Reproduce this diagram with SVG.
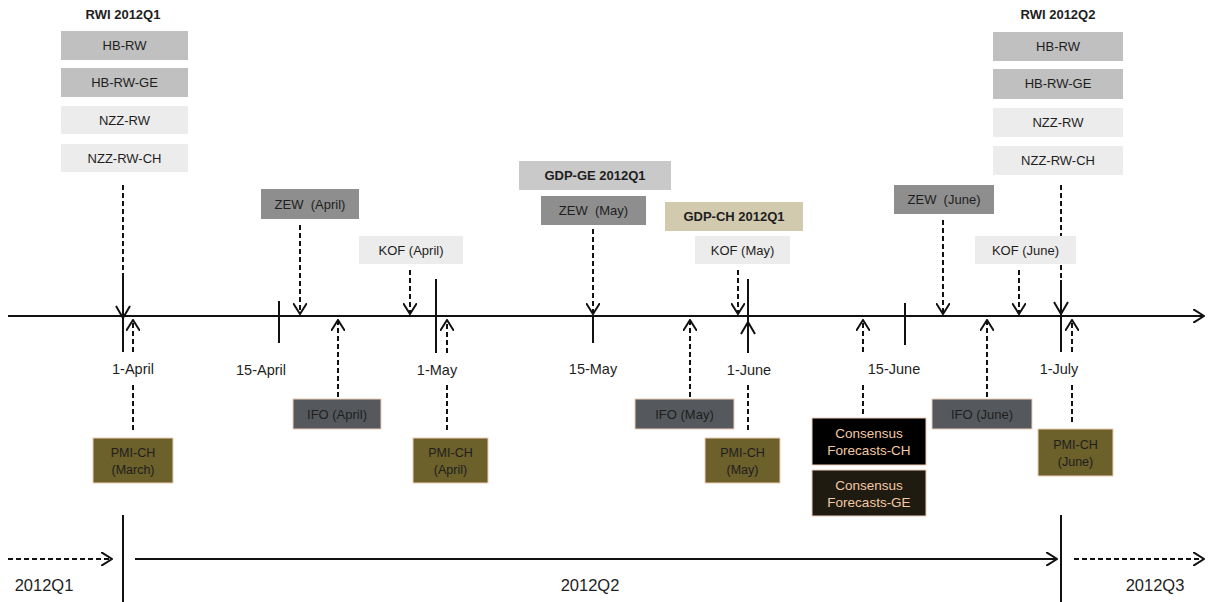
<svg xmlns="http://www.w3.org/2000/svg" width="1210" height="602" viewBox="0 0 1210 602">
<defs>
<style>
text{font-family:"Liberation Sans",Arial,sans-serif;fill:#1e1e1e;text-anchor:middle;white-space:pre}
.lbl{font-size:13px}
.pl{font-size:12.5px}
.bold{font-size:13px;font-weight:bold}
.date{font-size:14.5px}
.q{font-size:16.5px}
.pale{fill:#ececec}
.mid{fill:#c0c0c0}
.zew{fill:#8e8e8e}
.ifo{fill:#55595d;stroke:#f0cdb8;stroke-width:1}
.pmi{fill:#6c602b;stroke:#f0cdb8;stroke-width:1}
.cons{stroke:#f0cdb8;stroke-width:1}
.ct{fill:#f2c9a6;font-size:13.5px}
.s{stroke:#111;stroke-width:2;fill:none}
.d{stroke:#111;stroke-width:2;fill:none;stroke-dasharray:5,3}
.ch{stroke:#111;stroke-width:2;fill:none}
</style>
<marker id="ah" viewBox="0 0 12 14" refX="11" refY="7" markerWidth="12" markerHeight="14" markerUnits="userSpaceOnUse" orient="auto">
<path d="M0,0 L11,7 L0,14" fill="none" stroke="#111" stroke-width="2"/>
</marker>
</defs>
<rect width="1210" height="602" fill="#fff"/>

<g id="connectors">
<!-- main timeline -->
<line x1="8" y1="316" x2="1204" y2="316" class="s" marker-end="url(#ah)"/>
<!-- ticks -->
<line x1="123" y1="185" x2="123" y2="273" class="d"/>
<line x1="123" y1="273" x2="123" y2="352" class="s"/>
<line x1="279" y1="301" x2="279" y2="343" class="s"/>
<line x1="436" y1="279" x2="436" y2="353" class="s"/>
<line x1="593" y1="316" x2="593" y2="343" class="s"/>
<line x1="748" y1="279" x2="748" y2="353" class="s"/>
<line x1="905" y1="303" x2="905" y2="345" class="s"/>
<line x1="1061" y1="185" x2="1061" y2="280" class="d"/>
<line x1="1061" y1="280" x2="1061" y2="352" class="s"/>
<!-- solid chevrons -->
<path d="M116,306 L123,318 L130,306" class="ch"/>
<path d="M1054,302 L1061,314 L1068,302" class="ch"/>
<path d="M741,334 L748,322 L755,334" class="ch"/>
<!-- down dashed arrows -->
<line x1="300" y1="225" x2="300" y2="314" class="d" marker-end="url(#ah)"/>
<line x1="410" y1="270" x2="410" y2="314" class="d" marker-end="url(#ah)"/>
<line x1="593" y1="229" x2="593" y2="314" class="d" marker-end="url(#ah)"/>
<line x1="738" y1="270" x2="738" y2="314" class="d" marker-end="url(#ah)"/>
<line x1="943" y1="220" x2="943" y2="314" class="d" marker-end="url(#ah)"/>
<line x1="1019" y1="270" x2="1019" y2="314" class="d" marker-end="url(#ah)"/>
<!-- up dashed arrows -->
<line x1="133" y1="352" x2="133" y2="320" class="d" marker-end="url(#ah)"/>
<line x1="338" y1="397" x2="338" y2="320" class="d" marker-end="url(#ah)"/>
<line x1="447" y1="353" x2="447" y2="320" class="d" marker-end="url(#ah)"/>
<line x1="690" y1="397" x2="690" y2="320" class="d" marker-end="url(#ah)"/>
<line x1="863" y1="352" x2="863" y2="320" class="d" marker-end="url(#ah)"/>
<line x1="987" y1="397" x2="987" y2="320" class="d" marker-end="url(#ah)"/>
<line x1="1072" y1="352" x2="1072" y2="320" class="d" marker-end="url(#ah)"/>
<!-- dashed stubs below labels -->
<line x1="133" y1="385" x2="133" y2="430" class="d"/>
<line x1="447" y1="385" x2="447" y2="430" class="d"/>
<line x1="748" y1="385" x2="748" y2="430" class="d"/>
<line x1="863" y1="385" x2="863" y2="415" class="d"/>
<line x1="1072" y1="385" x2="1072" y2="425" class="d"/>
<!-- quarter bar -->
<line x1="123" y1="515" x2="123" y2="602" class="s"/>
<line x1="1061" y1="515" x2="1061" y2="602" class="s"/>
<line x1="8" y1="559" x2="112" y2="559" class="d" marker-end="url(#ah)"/>
<line x1="135" y1="559" x2="1057" y2="559" class="s" marker-end="url(#ah)"/>
<line x1="1074" y1="559" x2="1204" y2="559" class="d" marker-end="url(#ah)"/>
</g>

<g id="rwi-q1">
<text x="123" y="19" class="bold">RWI 2012Q1</text>
<rect x="61" y="31" width="127" height="29" class="mid"/><text x="124.5" y="50" class="lbl">HB-RW</text>
<rect x="61" y="68" width="127" height="29" class="mid"/><text x="124.5" y="87" class="lbl">HB-RW-GE</text>
<rect x="61" y="106" width="127" height="28" class="pale"/><text x="124.5" y="125" class="lbl">NZZ-RW</text>
<rect x="61" y="144" width="127" height="28" class="pale"/><text x="124.5" y="163" class="lbl">NZZ-RW-CH</text>
</g>
<g id="rwi-q2">
<text x="1058" y="19" class="bold">RWI 2012Q2</text>
<rect x="993" y="32" width="130" height="29" class="mid"/><text x="1058" y="51" class="lbl">HB-RW</text>
<rect x="993" y="69" width="130" height="30" class="mid"/><text x="1058" y="88" class="lbl">HB-RW-GE</text>
<rect x="993" y="108" width="130" height="29" class="pale"/><text x="1058" y="127" class="lbl">NZZ-RW</text>
<rect x="993" y="146" width="130" height="29" class="pale"/><text x="1058" y="165" class="lbl">NZZ-RW-CH</text>
</g>

<g id="zew-april"><rect x="261" y="189" width="98" height="30" class="zew"/><text x="310" y="208.5" class="lbl">ZEW  (April)</text></g>
<g id="kof-april"><rect x="359" y="236" width="104" height="28" class="pale"/><text x="411" y="254.5" class="lbl">KOF (April)</text></g>
<g id="gdp-ge"><rect x="519" y="161" width="152" height="29" fill="#c9c9c9"/><text x="595" y="180" class="bold">GDP-GE 2012Q1</text></g>
<g id="zew-may"><rect x="541" y="196" width="105" height="29" class="zew"/><text x="593.5" y="215" class="lbl">ZEW  (May)</text></g>
<g id="gdp-ch"><rect x="665" y="202" width="138" height="29" fill="#d1caaf"/><text x="734" y="221" class="bold">GDP-CH 2012Q1</text></g>
<g id="kof-may"><rect x="695" y="236" width="95" height="28" class="pale"/><text x="742.5" y="254.5" class="lbl">KOF (May)</text></g>
<g id="zew-june"><rect x="894" y="185" width="100" height="29" class="zew"/><text x="944" y="204" class="lbl">ZEW  (June)</text></g>
<g id="kof-june"><rect x="975" y="236" width="101" height="28" class="pale"/><text x="1025.5" y="254.5" class="lbl">KOF (June)</text></g>

<g id="dates">
<text x="133" y="374" class="date">1-April</text>
<text x="261" y="375" class="date">15-April</text>
<text x="437" y="375" class="date">1-May</text>
<text x="593" y="374" class="date">15-May</text>
<text x="749" y="375" class="date">1-June</text>
<text x="894" y="374" class="date">15-June</text>
<text x="1059" y="374" class="date">1-July</text>
</g>

<g id="ifo-april"><rect x="293" y="399" width="88" height="30" class="ifo"/><text x="337" y="418.5" class="lbl">IFO (April)</text></g>
<g id="ifo-may"><rect x="635" y="399" width="99" height="30" class="ifo"/><text x="684.5" y="418.5" class="lbl">IFO (May)</text></g>
<g id="ifo-june"><rect x="932" y="399" width="100" height="30" class="ifo"/><text x="982" y="418.5" class="lbl">IFO (June)</text></g>

<g id="pmi-march"><rect x="93" y="438" width="80" height="45" class="pmi"/><text x="133" y="457" class="pl">PMI-CH</text><text x="133" y="474" class="pl">(March)</text></g>
<g id="pmi-april"><rect x="413" y="438" width="75" height="45" class="pmi"/><text x="450.5" y="457" class="pl">PMI-CH</text><text x="450.5" y="474" class="pl">(April)</text></g>
<g id="pmi-may"><rect x="705" y="438" width="75" height="45" class="pmi"/><text x="742.5" y="457" class="pl">PMI-CH</text><text x="742.5" y="474" class="pl">(May)</text></g>
<g id="pmi-june"><rect x="1038" y="429" width="75" height="47" class="pmi"/><text x="1075.5" y="449" class="pl">PMI-CH</text><text x="1075.5" y="466" class="pl">(June)</text></g>

<g id="consensus-ch"><rect x="812" y="418" width="114" height="47" fill="#000" class="cons"/><text x="869" y="438" class="ct">Consensus</text><text x="869" y="455" class="ct">Forecasts-CH</text></g>
<g id="consensus-ge"><rect x="812" y="470" width="114" height="46" fill="#1f1b10" class="cons"/><text x="869" y="490" class="ct">Consensus</text><text x="869" y="507" class="ct">Forecasts-GE</text></g>

<g id="quarters">
<text x="44" y="591" class="q">2012Q1</text>
<text x="590" y="591" class="q">2012Q2</text>
<text x="1155" y="591" class="q">2012Q3</text>
</g>
</svg>
